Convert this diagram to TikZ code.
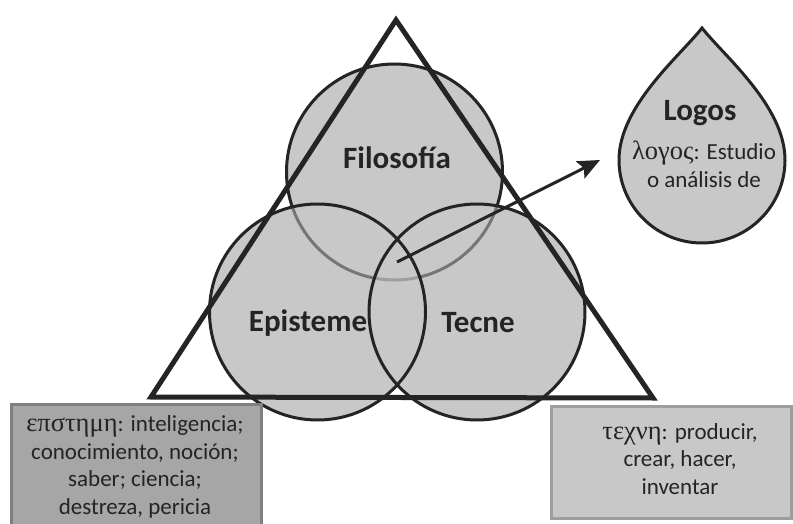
\documentclass[tikz,border=0pt]{standalone}
\usepackage{fontspec}
\setmainfont{Carlito}
\newfontfamily\greekfont[Scale=1.15]{Liberation Serif}
\usetikzlibrary{arrows.meta}
\definecolor{fillgray}{RGB}{200,200,200}
\definecolor{inkgray}{RGB}{36,36,36}
\definecolor{darkbox}{RGB}{166,166,166}
\definecolor{darkboxborder}{RGB}{128,128,128}
\definecolor{lightboxborder}{RGB}{158,158,158}
\tikzset{
  circfill/.style={circle, minimum size=216pt, inner sep=0pt, fill=fillgray},
  circline/.style={circle, minimum size=216pt, inner sep=0pt, draw=inkgray, line width=3pt},
  biglabel/.style={font=\fontsize{31}{36}\selectfont\bfseries, text=inkgray},
  boxtext/.style={font=\fontsize{23}{27.5}\selectfont, text=inkgray, align=center},
  leftbox/.style={fill=darkbox, draw=darkboxborder, line width=3pt},
  rightbox/.style={fill=fillgray, draw=lightboxborder, line width=3pt},
  tri/.style={draw=inkgray, line width=5pt, line join=miter},
  arr/.style={draw=inkgray, line width=3pt, -{Stealth[length=22pt, width=19pt, inset=4pt]}},
  drop/.style={fill=fillgray, draw=inkgray, line width=3pt}
}
\begin{document}
\begin{tikzpicture}[x=1pt, y=-1pt]
\useasboundingbox (0,0) rectangle (793,524);
\fill[white] (0,0) rectangle (793,524);
% circles: opaque base fill
\node[circfill] (fil) at (394.5,172) {};
\node[circfill] (epibase) at (317.5,312) {};
\node[circfill] (tecbase) at (477,312) {};
\node[circline] (filline) at (fil.center) {};
\begin{scope}[fill opacity=0.5]
\node[circfill] (epi) at (epibase.center) {};
\node[circfill] (tec) at (tecbase.center) {};
\end{scope}
\node[circline] (epiline) at (epi.center) {};
\node[circline] (tecline) at (tec.center) {};
% boxes
\node[leftbox, anchor=north west, minimum width=250pt, minimum height=125pt] (ebox) at (10,403) {};
\node[rightbox, anchor=north west, minimum width=240pt, minimum height=112pt] (tbox) at (550,405) {};
% triangle
\coordinate (tA) at (396,20);
\coordinate (tB) at (151,397);
\coordinate (tC) at (653,398);
\draw[tri] (tA) -- (tB) -- (tC) -- cycle;
% teardrop
\coordinate (dtop) at (702,28);
\coordinate (dleft) at (619,160);
\draw[drop] (dtop) .. controls (680,56) and (619,106) .. (dleft)
  arc[start angle=180, end angle=360, radius=83pt]
  .. controls (785,106) and (724,56) .. (dtop) -- cycle;
% arrow
\coordinate (astart) at (397,262);
\coordinate (aend) at (600,160);
\draw[arr] (astart) -- (aend);
% labels
\node[biglabel] (lfil) at (397,158) {Filosofía};
\node[biglabel] (lepi) at (308,323) {Episteme};
\node[biglabel] (ltec) at (478,323) {Tecne};
\node[biglabel] (llog) at (700,113) {Logos};
\node[boxtext, font=\fontsize{23}{28}\selectfont] (tlog) at (704,164) {{\greekfont λογος}: Estudio\\o análisis de};
\node[boxtext] (etext) at (135,467) {{\greekfont επστημη}: inteligencia;\\conocimiento, noción;\\saber; ciencia;\\destreza, pericia};
\node[boxtext] (ttext) at (680,459) {{\greekfont τεχνη}: producir,\\crear, hacer,\\inventar};
\end{tikzpicture}
\end{document}
